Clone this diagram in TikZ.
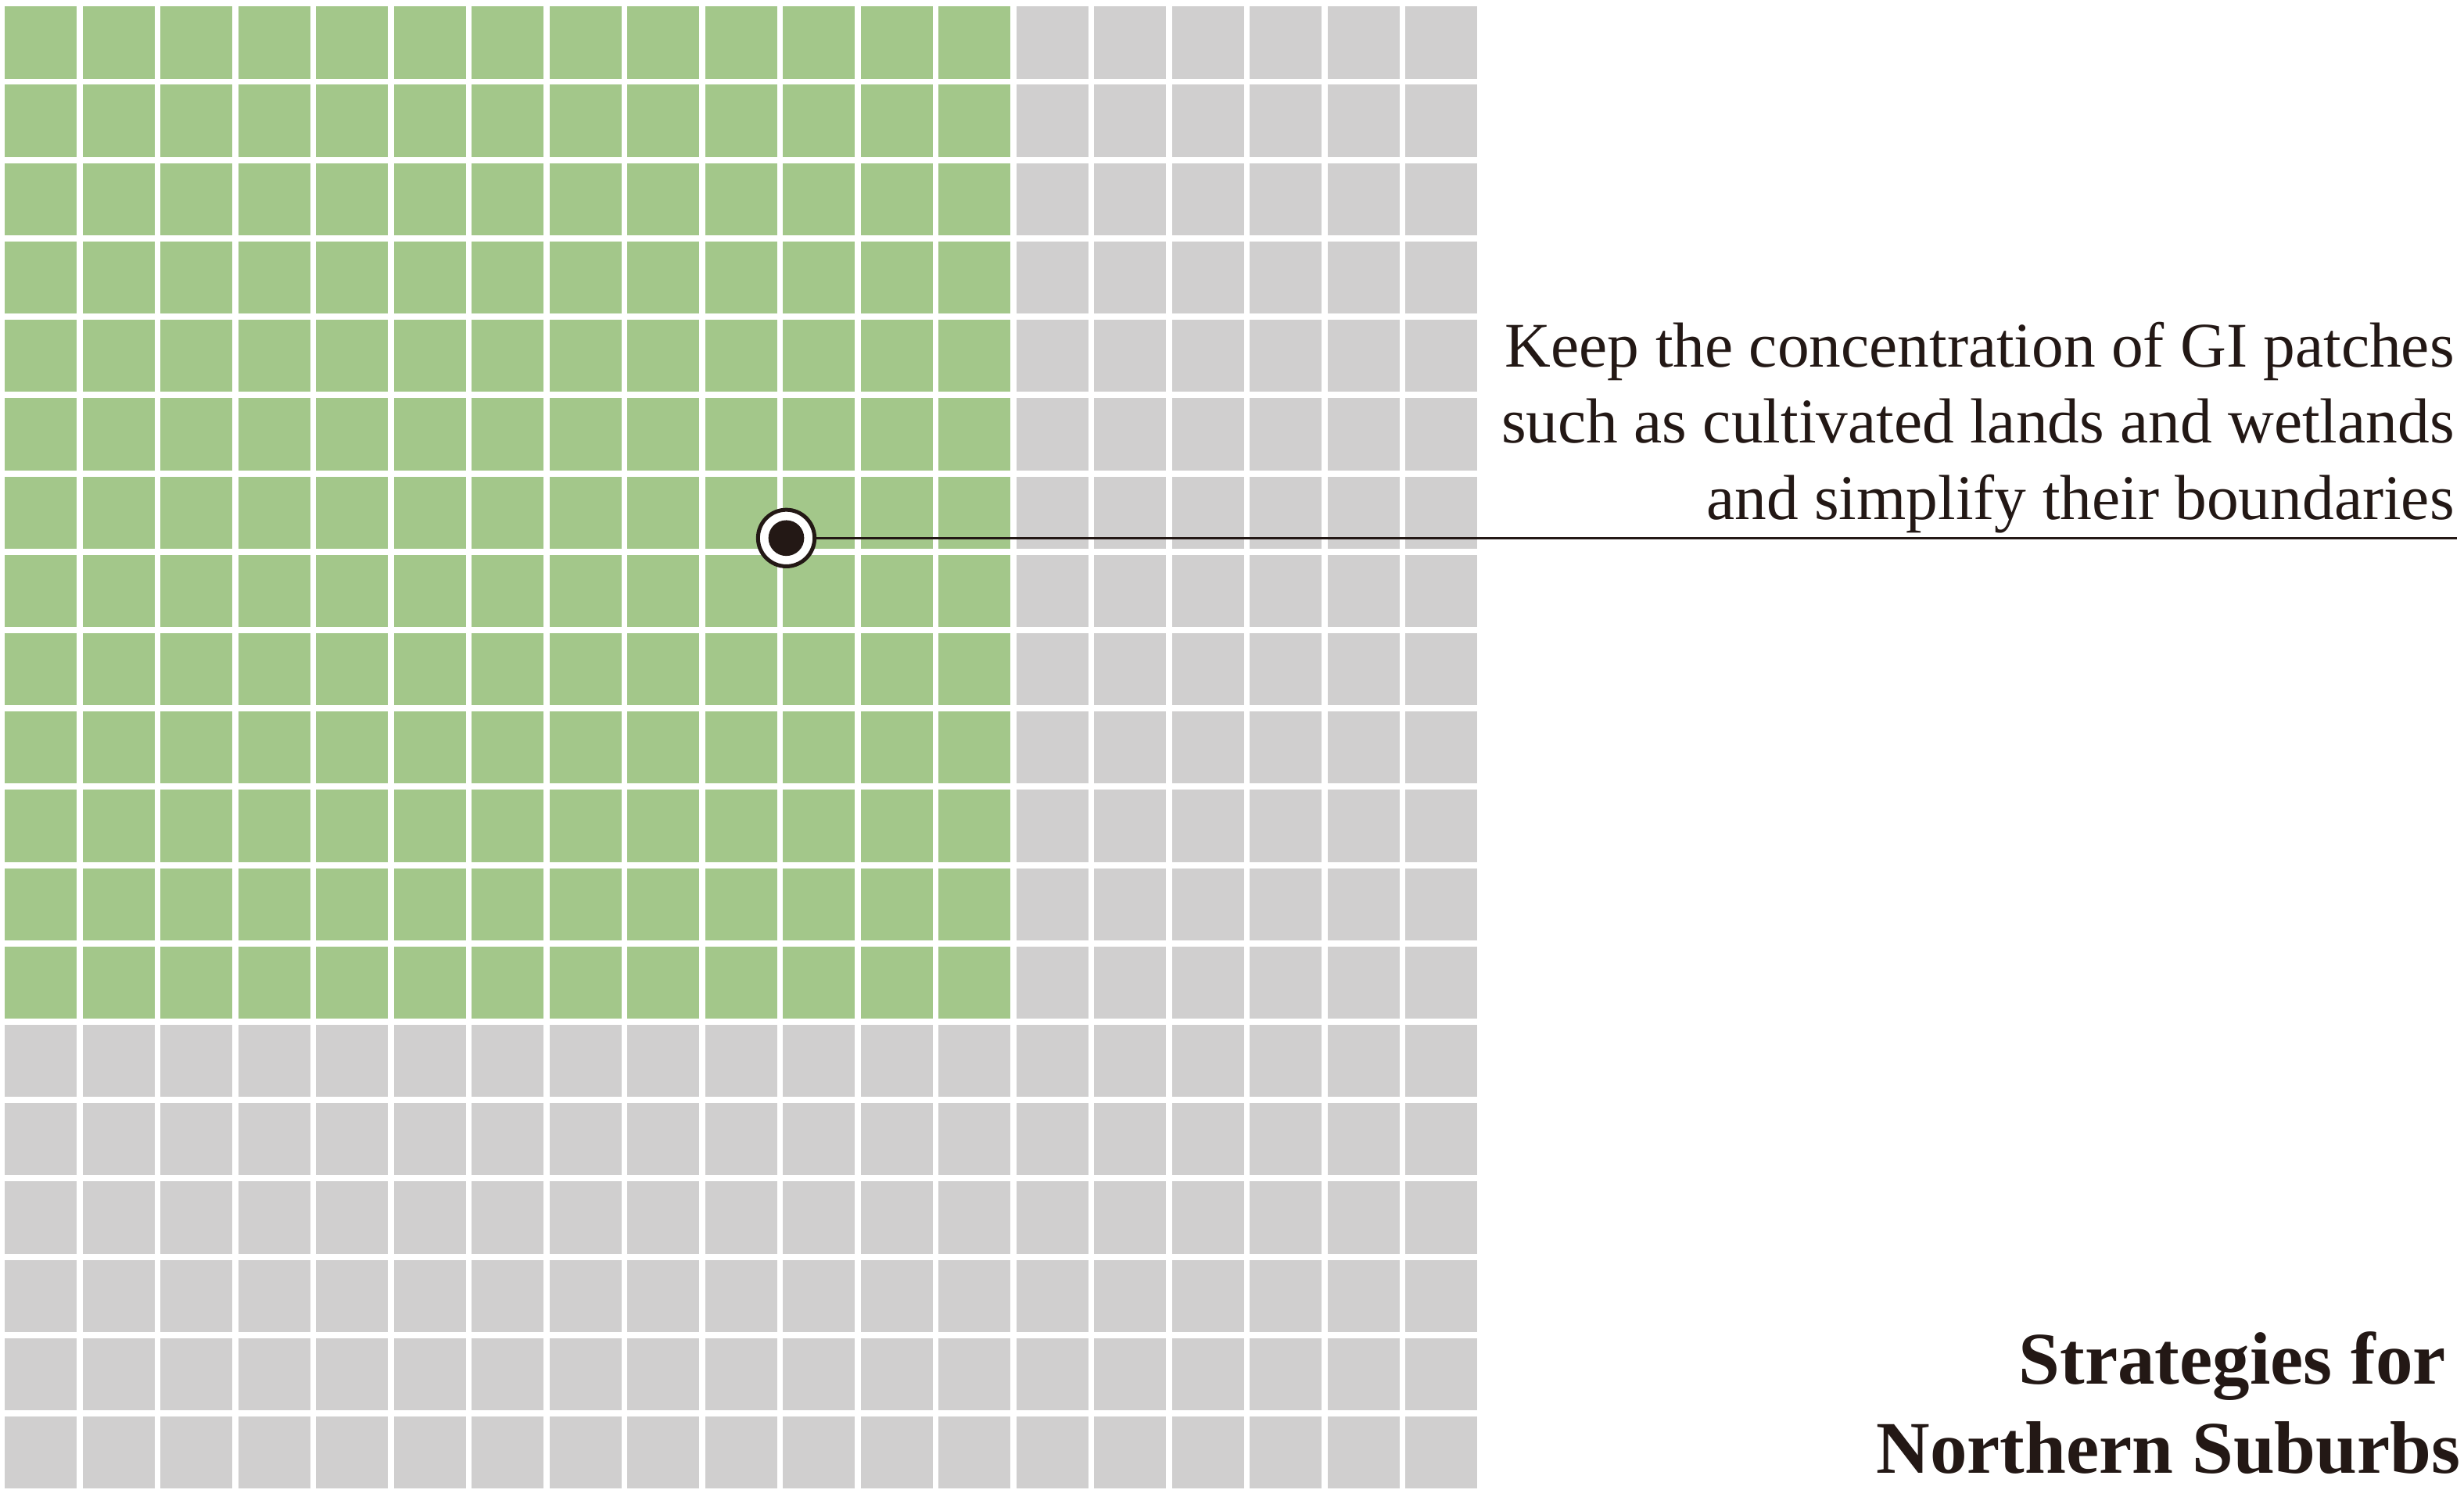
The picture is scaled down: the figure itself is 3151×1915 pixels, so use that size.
\documentclass[tikz,border=0pt]{standalone}
\usepackage{fontspec}
\setmainfont{Liberation Serif}
\definecolor{giGreen}{HTML}{A3C78A}
\definecolor{giGray}{HTML}{D0CFCF}
\definecolor{ink}{HTML}{231815}
\tikzset{
  labeltext/.style={inner sep=0pt, text=ink, font={\fontsize{40.7}{48}\selectfont}},
  titletext/.style={inner sep=0pt, text=ink, font={\fontsize{47.5}{57}\selectfont\bfseries}},
  markring/.style={circle, draw=ink, fill=white, line width=2.5pt, minimum size=36.15pt, inner sep=0pt},
  markdot/.style={circle, fill=ink, minimum size=22.85pt, inner sep=0pt},
  leader/.style={draw=ink, line width=1.35pt}
}
\begin{document}
\begin{tikzpicture}[x=0.5pt, y=-0.5pt]
\useasboundingbox (0,0) rectangle (3151,1915);
\fill[white] (0,0) rectangle (3151,1915);
% grid of cells
\foreach \i in {0,...,18}{
  \foreach \j in {0,...,18}{
    \pgfmathsetmacro\cx{6+\i*99.5}
    \pgfmathsetmacro\cy{8.3+\j*100.2}
    \ifnum\i<13 \ifnum\j<13 \def\cc{giGreen}\else\def\cc{giGray}\fi \else \def\cc{giGray}\fi
    \fill[\cc] (\cx,\cy) rectangle ++(92,92.3);
  }
}
% label text
\node[labeltext, anchor=base east] (t1) at (3139,469) {Keep the concentration of GI patches};
\node[labeltext, anchor=base east] (t2) at (3139,566.7) {such as cultivated lands and wetlands};
\node[labeltext, anchor=base east] (t3) at (3139,664.5) {and simplify their boundaries};
% marker and leader
\coordinate (lineend) at (3141.5,688.3);
\node[markring] (marker) at (1005.5,688.3) {};
\draw[leader] (marker.east) -- (lineend);
\node[markdot] (dot) at (marker.center) {};
% title
\node[titletext, anchor=base east] (title1) at (3128,1770) {Strategies for};
\node[titletext, anchor=base east] (title2) at (3147,1884) {Northern Suburbs};
\end{tikzpicture}
\end{document}
